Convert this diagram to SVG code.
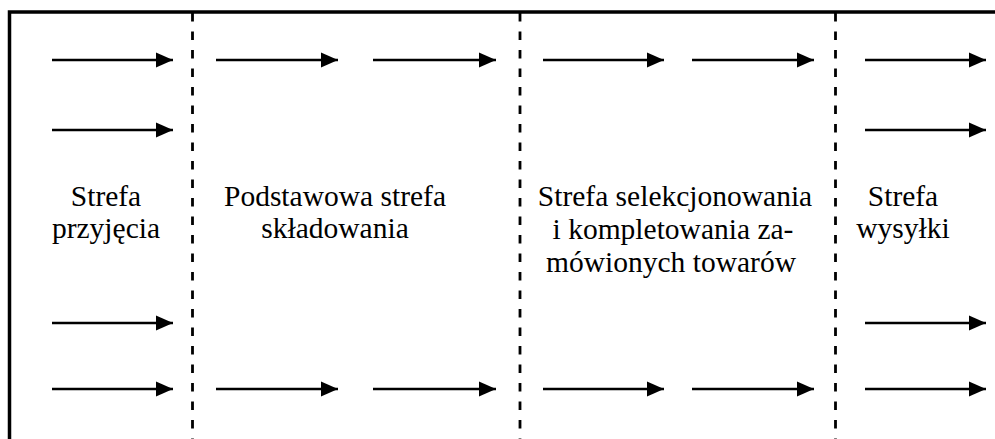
<svg xmlns="http://www.w3.org/2000/svg" width="995" height="439" viewBox="0 0 995 439">
  <style>
    .frame { fill: none; stroke: #000; stroke-width: 3.5; }
    .divider { fill: none; stroke: #000; stroke-width: 2.8; stroke-dasharray: 8.5 10; }
    .flow { fill: none; stroke: #000; stroke-width: 2.6; marker-end: url(#head); }
    .label { font-family: "Liberation Serif", "Times New Roman", serif; font-size: 29.5px; fill: #000; text-anchor: middle; }
  </style>
  <defs>
    <marker id="head" markerUnits="userSpaceOnUse" markerWidth="18" markerHeight="16" refX="17" refY="8" orient="auto" overflow="visible">
      <path d="M0,0.5 L17,8 L0,15.5 Z" fill="#000"/>
    </marker>
  </defs>

  <rect width="995" height="439" fill="#fff"/>

  <!-- outer frame: top and left edges -->
  <g id="frame">
    <path class="frame" d="M9.5,439 V12 H995"/>
  </g>

  <!-- zone boundaries -->
  <g id="dividers">
    <line class="divider" x1="192.5" y1="13" x2="192.5" y2="439"/>
    <line class="divider" x1="520" y1="13" x2="520" y2="439"/>
    <line class="divider" x1="835.5" y1="13" x2="835.5" y2="439"/>
  </g>

  <!-- goods flow arrows -->
  <g id="connectors">
    <line class="flow" x1="52" y1="60" x2="173" y2="60"/>
    <line class="flow" x1="216" y1="60" x2="338" y2="60"/>
    <line class="flow" x1="373" y1="60" x2="496" y2="60"/>
    <line class="flow" x1="543" y1="60" x2="664" y2="60"/>
    <line class="flow" x1="692" y1="60" x2="814" y2="60"/>
    <line class="flow" x1="865" y1="60" x2="986" y2="60"/>

    <line class="flow" x1="52" y1="130" x2="173" y2="130"/>
    <line class="flow" x1="865" y1="130" x2="986" y2="130"/>

    <line class="flow" x1="52" y1="323" x2="173" y2="323"/>
    <line class="flow" x1="865" y1="323" x2="986" y2="323"/>

    <line class="flow" x1="52" y1="389" x2="173" y2="389"/>
    <line class="flow" x1="216" y1="389" x2="338" y2="389"/>
    <line class="flow" x1="373" y1="389" x2="496" y2="389"/>
    <line class="flow" x1="543" y1="389" x2="664" y2="389"/>
    <line class="flow" x1="692" y1="389" x2="814" y2="389"/>
    <line class="flow" x1="865" y1="389" x2="986" y2="389"/>
  </g>

  <!-- zones -->
  <g id="zone-receiving">
    <text class="label" x="106" y="206">Strefa</text>
    <text class="label" x="106" y="238">przyjęcia</text>
  </g>
  <g id="zone-storage">
    <text class="label" x="335" y="206">Podstawowa strefa</text>
    <text class="label" x="335" y="238">składowania</text>
  </g>
  <g id="zone-picking">
    <text class="label" x="675" y="206">Strefa selekcjonowania</text>
    <text class="label" x="673" y="239">i kompletowania za-</text>
    <text class="label" x="671" y="272">mówionych towarów</text>
  </g>
  <g id="zone-shipping">
    <text class="label" x="903" y="206">Strefa</text>
    <text class="label" x="903" y="238">wysyłki</text>
  </g>
</svg>
